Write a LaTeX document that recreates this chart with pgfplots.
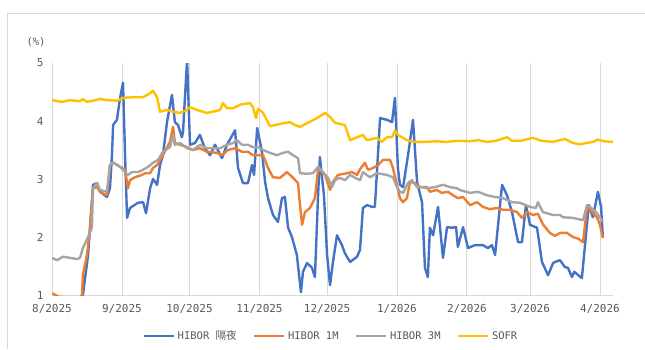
\documentclass[border=0pt]{standalone}
\usepackage{pgfplots}
\pgfplotsset{compat=1.18}
\usepackage{fontspec}
\setmainfont{DejaVu Sans Mono}
\newfontfamily\cjk{Noto Sans CJK SC}

\definecolor{cBlue}{HTML}{4472C4}
\definecolor{cOrange}{HTML}{ED7D31}
\definecolor{cGray}{HTML}{A5A5A5}
\definecolor{cGold}{HTML}{FFC000}
\definecolor{cText}{HTML}{595959}
\definecolor{cGrid}{HTML}{D9D9D9}

\begin{document}
\begin{tikzpicture}
\path[use as bounding box] (0,0) rectangle (645pt,349pt);
% outer chart frame
\draw[cGrid, line width=0.6pt] (7pt,0pt) -- (7pt,336pt) -- (645pt,336pt);

\begin{axis}[
  at={(52pt,54pt)}, anchor=south west,
  scale only axis, width=561pt, height=232pt,
  xmin=0, xmax=248.8, ymin=1, ymax=5,
  xtick={0,31,61,92,122,153,184,212,243},
  xticklabels={8/2025,9/2025,10/2025,11/2025,12/2025,1/2026,2/2026,3/2026,4/2026},
  ytick={1,2,3,4,5},
  /pgf/number format/assume math mode=true,
  ticklabel style={font=\fontsize{11}{12}\selectfont, text=cText},
  xticklabel style={yshift=-6pt},
  yticklabel style={xshift=-5pt},
  major tick length=0pt,
  separate axis lines,
  axis x line*=bottom, axis y line*=left,
  y axis line style={draw=none},
  x axis line style={draw=cGrid, line width=1pt},
  xmajorgrids, grid style={cGrid, line width=0.8pt},
  every axis plot/.append style={line width=2.4pt, line join=round, no markers},
  legend columns=4,
  legend style={at={(0.497,-0.178)}, anchor=center, draw=none, fill=none,
    font=\fontsize{10.5}{12}\selectfont, text=cText,
    /tikz/every even column/.append style={column sep=14pt},
    /tikz/every odd column/.append style={column sep=1pt}},
  legend image code/.code={\draw[#1] (0pt,0pt) -- (30pt,0pt);},
  legend cell align=left,
]

% HIBOR overnight
\addplot[cBlue] coordinates {
(0,0.60) (10,0.70) (12,0.80) (13.7,1.00) (16.0,1.69) (18.2,2.90) (20.0,2.93)
(21.3,2.78) (24.4,2.69) (25.7,2.84) (26.6,3.41) (27.1,3.93) (28.8,4.02)
(30.2,4.40) (31.5,4.66) (32.4,3.41) (33.3,2.33) (34.6,2.50) (38.1,2.59)
(40.4,2.60) (41.7,2.41) (43.5,2.84) (44.8,3.00) (46.6,2.90) (47.9,3.24)
(49.2,3.41) (51.0,3.98) (53.2,4.45) (54.5,3.98) (55.9,3.93) (57.6,3.72)
(58.1,3.81) (59.9,5.05) (61.2,3.59) (63.4,3.62) (65.6,3.76) (67.8,3.53)
(70.1,3.41) (72.3,3.59) (75.4,3.36) (77.6,3.59) (81.2,3.84) (82.5,3.19)
(84.7,2.93) (86.9,2.93) (88.7,3.24) (89.6,3.07) (91.0,3.88) (93.1,3.47)
(94.5,2.95) (95.8,2.67) (98.0,2.38) (100.2,2.26) (102.0,2.67) (103.3,2.69)
(104.7,2.16) (106.4,2.00) (108.6,1.69) (110.4,1.05) (111.3,1.40) (113.1,1.55)
(115.3,1.47) (116.6,1.31) (118.0,2.72) (118.8,3.38) (120.6,2.72) (122.0,1.69)
(123.3,1.17) (124.6,1.57) (126.4,2.03) (128.6,1.86) (129.9,1.72) (132.2,1.57)
(135.3,1.66) (136.6,1.78) (137.9,2.50) (139.7,2.55) (141.9,2.52) (143.2,2.52)
(145.5,4.05) (148.6,4.02) (150.8,3.98) (152.1,4.40) (153.4,3.19) (154.3,2.90)
(155.7,2.86) (157.9,3.41) (160.1,4.02) (161.9,2.95) (164.1,2.60) (165.4,1.47)
(166.7,1.31) (167.6,2.16) (169.0,2.03) (171.2,2.52) (173.4,1.64) (175.2,2.17)
(177.4,2.16) (179.2,2.17) (180.0,1.83) (182.3,2.17) (184.5,1.81) (187.6,1.86)
(191.1,1.86) (193.3,1.81) (195.1,1.86) (196.5,1.69) (199.6,2.90) (201.8,2.72)
(204.0,2.43) (206.7,1.91) (208.4,1.91) (210.2,2.55) (212.0,2.21) (215.1,2.16)
(217.3,1.57) (220.0,1.34) (222.2,1.55) (223.1,1.57) (225.3,1.60) (227.5,1.48)
(228.8,1.47) (230.6,1.31) (231.6,1.40) (235.0,1.29) (237.3,2.24) (238.1,2.55)
(239.9,2.34) (242.1,2.78) (243.5,2.52) (244.3,2.00)
};
\addlegendentry{HIBOR {\cjk 隔夜}}

% HIBOR 1M
\addplot[cOrange] coordinates {
(0,1.03) (3,0.97) (12,0.95) (13.3,1.00) (13.7,1.34) (15.5,1.69) (16.9,2.16)
(18.2,2.84) (20.0,2.86) (21.3,2.78) (24.4,2.72) (25.7,3.24) (27.1,3.28)
(30.2,3.21) (32.4,3.16) (33.7,2.84) (34.6,2.98) (36.8,3.03) (39.9,3.07)
(41.2,3.10) (43.5,3.10) (44.8,3.19) (46.6,3.24) (49.2,3.41) (52.3,3.64)
(53.7,3.90) (54.5,3.62) (56.8,3.59) (59.9,3.55) (62.5,3.50) (65.6,3.53)
(68.7,3.47) (73.2,3.45) (75.4,3.41) (78.0,3.50) (81.2,3.53) (84.3,3.47)
(86.9,3.47) (89.1,3.41) (91.4,3.41) (93.6,3.41) (95.8,3.19) (98.0,3.03)
(101.1,3.02) (104.2,3.12) (106.9,3.02) (109.1,2.93) (110.0,2.55) (110.9,2.21)
(112.2,2.43) (114.4,2.50) (116.6,2.67) (118.0,3.16) (119.7,3.12) (121.1,3.07)
(123.3,2.81) (124.6,2.95) (126.8,3.07) (130.8,3.10) (133.0,3.12) (135.3,3.07)
(136.6,3.17) (138.8,3.28) (140.1,3.16) (142.4,3.19) (144.6,3.24) (146.8,3.33)
(149.9,3.33) (151.2,3.19) (153.0,2.90) (154.3,2.67) (155.7,2.60) (157.4,2.67)
(158.8,2.95) (161.0,2.93) (163.2,2.86) (166.3,2.86) (167.6,2.78) (170.7,2.81)
(172.9,2.76) (175.6,2.78) (177.8,2.72) (180.0,2.67) (182.3,2.69) (185.4,2.55)
(188.5,2.60) (191.1,2.52) (194.2,2.48) (197.3,2.50) (200.0,2.47) (203.1,2.47)
(206.2,2.43) (208.4,2.33) (210.6,2.43) (213.3,2.38) (215.5,2.40) (217.7,2.22)
(220.8,2.07) (223.1,2.02) (225.3,2.07) (228.4,2.07) (231.0,2.00) (233.5,1.97)
(235.5,1.91) (237.3,2.52) (238.6,2.47) (241.7,2.34) (243.0,2.21) (244.3,1.98)
};
\addlegendentry{HIBOR 1M}

% HIBOR 3M
\addplot[cGray] coordinates {
(0,1.64) (2.2,1.60) (4.9,1.66) (8.0,1.64) (11.1,1.62) (12.4,1.64) (13.7,1.81)
(16.0,2.00) (17.7,2.16) (18.2,2.84) (20.0,2.93) (21.3,2.81) (24.4,2.78)
(25.7,3.24) (27.1,3.29) (30.2,3.21) (32.4,3.12) (33.7,3.07) (35.5,3.12)
(38.1,3.12) (40.4,3.16) (42.6,3.21) (44.8,3.28) (47.0,3.33) (49.2,3.47)
(52.3,3.55) (53.7,3.76) (54.5,3.59) (56.8,3.62) (59.9,3.53) (62.5,3.50)
(65.6,3.59) (68.7,3.53) (71.4,3.53) (74.5,3.53) (77.6,3.59) (80.3,3.62)
(82.0,3.67) (84.3,3.59) (86.9,3.59) (89.1,3.55) (91.4,3.55) (93.6,3.50)
(96.7,3.45) (99.8,3.41) (102.4,3.45) (104.7,3.47) (106.9,3.41) (109.1,3.36)
(110.0,3.10) (113.1,3.09) (115.7,3.10) (118.0,3.21) (120.2,3.12) (122.4,3.02)
(124.2,2.86) (125.5,2.98) (127.7,3.02) (129.9,2.98) (132.2,3.07) (134.4,3.02)
(136.6,2.98) (137.9,3.12) (141.0,3.03) (144.1,3.10) (148.6,3.07) (151.2,3.03)
(153.0,2.86) (154.3,2.78) (155.7,2.76) (157.9,2.93) (159.6,2.98) (161.9,2.86)
(164.1,2.86) (166.7,2.84) (169.8,2.86) (173.4,2.90) (176.5,2.86) (179.6,2.84)
(180.9,2.81) (185.4,2.76) (188.9,2.78) (192.9,2.72) (196.5,2.69) (200.0,2.67)
(204.0,2.60) (207.5,2.59) (212.0,2.52) (214.6,2.50) (215.5,2.60) (217.7,2.43)
(222.2,2.38) (225.3,2.38) (226.6,2.34) (231.0,2.33) (235.5,2.29) (237.3,2.55)
(238.6,2.52) (241.7,2.41) (244.3,2.26)
};
\addlegendentry{HIBOR 3M}

% SOFR
\addplot[cGold] coordinates {
(0,4.36) (4.4,4.33) (8.0,4.36) (12.4,4.34) (13.7,4.38) (15.5,4.33) (18.2,4.35)
(21.3,4.38) (24.4,4.36) (28.8,4.35) (31.5,4.40) (35.9,4.41) (40.4,4.41)
(43.5,4.48) (44.8,4.52) (46.6,4.41) (47.9,4.16) (51.0,4.19) (53.7,4.16)
(56.8,4.14) (59.9,4.19) (61.2,4.24) (64.3,4.19) (68.7,4.14) (71.4,4.16)
(74.5,4.19) (75.8,4.31) (77.6,4.22) (80.3,4.22) (83.4,4.28) (87.8,4.31)
(89.1,4.24) (90.5,4.05) (91.4,4.21) (93.6,4.14) (96.7,3.91) (102.4,3.96)
(105.5,3.98) (107.8,3.93) (110.0,3.90) (113.5,3.97) (117.5,4.05) (121.1,4.14)
(123.3,4.07) (125.5,3.97) (129.9,3.93) (132.2,3.67) (135.3,3.72) (137.9,3.76)
(139.7,3.67) (144.1,3.71) (146.3,3.64) (148.6,3.72) (150.8,3.72) (152.1,3.84)
(153.4,3.76) (157.4,3.67) (160.1,3.64) (165,3.64) (170,3.65) (175,3.64)
(180,3.66) (185,3.65) (189,3.67) (193,3.64) (197,3.66) (201.8,3.72) (204,3.66)
(208,3.66) (213.3,3.71) (217,3.66) (222,3.64) (227.5,3.69) (231,3.62)
(234.1,3.60) (237,3.62) (240,3.64) (242,3.68) (245,3.65) (248.8,3.64)
};
\addlegendentry{SOFR}
\end{axis}

\node[text=cText, font=\fontsize{10.5}{12}\selectfont] at (36pt,307pt) {(\%)};
\end{tikzpicture}
\end{document}
